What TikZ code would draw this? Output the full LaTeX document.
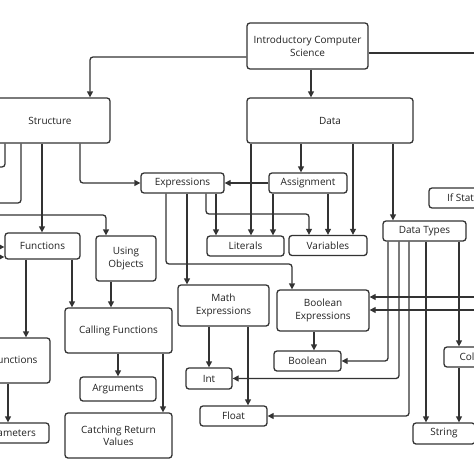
\documentclass[tikz,border=0pt]{standalone}
\usepackage{fontspec}
\setmainfont{Open Sans}
\usetikzlibrary{positioning,calc,arrows.meta}
\definecolor{ink}{HTML}{333333}
\definecolor{txt}{HTML}{222222}

\begin{document}
\begin{tikzpicture}[x=1pt,y=-1pt,
    block/.style={draw=ink, line width=1.3pt, rounded corners=3pt, fill=white, text=txt,
        font=\fontsize{10}{12.5}\selectfont, inner sep=0pt, align=center},
    conn/.style={draw=ink, line width=1.3pt, rounded corners=3pt, -{Triangle[length=6pt,width=6pt]}},
    wire/.style={draw=ink, line width=1.3pt, rounded corners=3pt}]
    \useasboundingbox (0,0) rectangle (474,474);

    % top level
    \node[block, minimum width=121pt, minimum height=46pt] (intro) at (307.5,46) {Introductory Computer\\Science};
    \node[block, minimum width=120pt, minimum height=45pt] (struct) at (50,120.5) {Structure};
    \node[block, minimum width=166pt, minimum height=45pt] (data) at (330,120.5) {Data};

    % data side
    \node[block, minimum width=83pt, minimum height=20pt] (expr) at (182.5,183) {Expressions};
    \node[block, minimum width=78pt, minimum height=20pt] (assign) at (308,183) {Assignment};
    \node[block, minimum width=77pt, minimum height=20pt] (lit) at (245.5,246) {Literals};
    \node[block, minimum width=78pt, minimum height=20pt] (var) at (328,245.5) {Variables};
    \node[block, minimum width=98pt, minimum height=20pt] (ifst) at (478,198) {If Statements};
    \node[block, minimum width=83pt, minimum height=20pt] (dtypes) at (424.5,231) {Data Types};
    \node[block, minimum width=91pt, minimum height=41pt] (mathx) at (223.5,305.5) {Math\\Expressions};
    \node[block, minimum width=92pt, minimum height=41pt] (boolx) at (323,310.5) {Boolean\\Expressions};
    \node[block, minimum width=67pt, minimum height=20pt] (bool) at (307.5,361) {Boolean};
    \node[block, minimum width=46pt, minimum height=21pt] (int) at (209,378.5) {Int};
    \node[block, minimum width=67pt, minimum height=20pt] (float) at (233.5,416) {Float};
    \node[block, minimum width=82pt, minimum height=20pt] (coll) at (485,357) {Collections};
    \node[block, minimum width=62pt, minimum height=21pt] (string) at (444,433.5) {String};

    % structure side
    \node[block, minimum width=75pt, minimum height=26pt] (func) at (42.5,246) {Functions};
    \node[block, minimum width=60pt, minimum height=45pt] (useobj) at (126,258.5) {Using\\Objects};
    \node[block, minimum width=107pt, minimum height=45pt] (callf) at (118.5,330.5) {Calling Functions};
    \node[block, minimum width=112pt, minimum height=45pt] (deff) at (-6,360.5) {Defining Functions};
    \node[block, minimum width=80pt, minimum height=20pt] (param) at (9,433) {Parameters};
    \node[block, minimum width=76pt, minimum height=24pt] (args) at (118,389) {Arguments};
    \node[block, minimum width=107pt, minimum height=45pt] (catch) at (118.5,435.5) {Catching Return\\Values};

    % free ends beyond the frame
    \coordinate (introR) at (480,53);
    \coordinate (L1) at (-10,167);
    \coordinate (L2) at (-10,203);
    \coordinate (L3) at (-10,215);
    \coordinate (L4) at (-10,247);
    \coordinate (L5) at (-10,257);
    \coordinate (R1) at (480,297);
    \coordinate (R2) at (480,310);

    % from the top
    \draw[conn] (intro.west |- 0,57) -| (struct.north -| 90,0);
    \draw[wire] (intro.east |- 0,53) -- (introR);
    \draw[conn] (intro.south -| 311,0) -- (data.north -| 311,0);

    % from data
    \draw[conn] (data.south -| 251,0) -- (lit.north -| 251,0);
    \draw[conn] (data.south -| 301,0) -- (assign.north -| 301,0);
    \draw[conn] (data.south -| 353,0) -- (var.north -| 353,0);
    \draw[conn] (data.south -| 393,0) -- (dtypes.north -| 393,0);

    % from structure
    \draw[wire] (struct.south -| 5,0) |- (L1);
    \draw[wire] (struct.south -| 21,0) |- (L2);
    \draw[conn] (struct.south -| 42,0) -- (func.north -| 42,0);
    \draw[conn] (struct.south -| 80,0) |- (expr.west);
    \draw[conn] (L3) -| (useobj.north -| 106,0);
    \draw[conn] (L4) -- (func.west |- 0,247);
    \draw[conn] (L5) -- (func.west |- 0,257);

    % functions
    \draw[conn] (func.south -| 26,0) -- (deff.north -| 26,0);
    \draw[conn] (func.south -| 72,0) -- (callf.north -| 72,0);
    \draw[conn] (useobj.south -| 111,0) -- (callf.north -| 111,0);
    \draw[conn] (deff.south -| 8,0) -- (param.north -| 8,0);
    \draw[conn] (callf.south -| 118,0) -- (args.north -| 118,0);
    \draw[conn] (callf.south -| 163,0) -- (catch.north -| 163,0);

    % expressions and assignment
    \draw[conn] (assign.west) -- (expr.east);
    \draw[conn] (expr.south -| 166,0) -- (166,264) -| (boolx.north -| 292,0);
    \draw[conn] (expr.south -| 187,0) -- (mathx.north -| 187,0);
    \draw[conn] (expr.south -| 206,0) -- (206,214) -| (var.north -| 309,0);
    \draw[conn] (expr.south -| 216,0) -- (lit.north -| 216,0);
    \draw[conn] (assign.south -| 273,0) -- (lit.north -| 273,0);
    \draw[conn] (assign.south -| 328,0) -- (var.north -| 328,0);

    % math and boolean
    \draw[conn] (mathx.south -| 209,0) -- (int.north -| 209,0);
    \draw[conn] (mathx.south -| 248,0) -- (float.north -| 248,0);
    \draw[conn] (boolx.south -| 314,0) -- (bool.north -| 314,0);
    \draw[conn] (R1) -- (boolx.east |- 0,297);
    \draw[conn] (R2) -- (boolx.east |- 0,310);

    % data types
    \draw[conn] (dtypes.south -| 388,0) |- (bool.east);
    \draw[conn] (dtypes.south -| 399,0) |- (int.east);
    \draw[conn] (dtypes.south -| 409,0) |- (float.east);
    \draw[conn] (dtypes.south -| 426,0) -- (string.north -| 426,0);
    \draw[conn] (dtypes.south -| 459,0) -- (coll.north -| 459,0);
    \draw[conn] (coll.south -| 459,0) -- (string.north -| 459,0);
\end{tikzpicture}
\end{document}
